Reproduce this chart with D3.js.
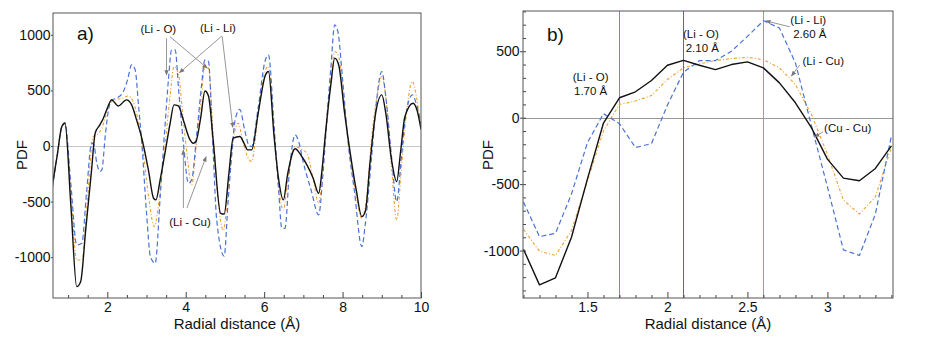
<!DOCTYPE html>
<html>
<head>
<meta charset="utf-8">
<script src="https://d3js.org/d3.v7.min.js"></script>
<style>
  body { margin: 0; background: #fff; }
  text { font-family: "Liberation Sans", Arial, sans-serif; fill: #111; }
</style>
</head>
<body>
<svg width="947" height="352"></svg>
<script>
// ---- panel a) : [r (Å), PDF] vertices
var aBlack = [[0.6,-350],[0.72,-90],[0.84,175],[0.92,205],[1.07,-530],[1.22,-1265],[1.32,-1220],[1.45,-750],[1.6,-210],[1.69,115],[1.81,190],[1.9,250],[2.0,340],[2.11,415],[2.28,360],[2.49,415],[2.62,370],[2.75,230],[2.88,70],[3.05,-220],[3.18,-470],[3.24,-485],[3.35,-300],[3.47,-65],[3.6,200],[3.7,370],[3.81,360],[3.95,220],[4.11,55],[4.19,25],[4.26,40],[4.38,250],[4.49,495],[4.58,450],[4.7,50],[4.89,-605],[4.98,-612],[5.1,-250],[5.21,70],[5.38,85],[5.48,30],[5.58,-35],[5.68,-35],[5.85,300],[6.02,625],[6.11,670],[6.25,100],[6.36,-275],[6.49,-485],[6.6,-250],[6.79,-25],[6.95,-90],[7.09,-170],[7.25,-290],[7.39,-425],[7.48,-200],[7.56,100],[7.7,550],[7.8,790],[7.9,730],[8.05,300],[8.2,-75],[8.35,-400],[8.49,-635],[8.58,-590],[8.7,-150],[8.83,265],[9.0,460],[9.1,300],[9.25,-130],[9.38,-320],[9.48,-50],[9.59,265],[9.8,385],[9.9,320],[10.0,150]];
var aOrange = [[0.6,-350],[0.72,-90],[0.84,170],[0.92,195],[1.07,-415],[1.22,-1025],[1.35,-1025],[1.5,-450],[1.64,85],[1.73,100],[1.86,160],[1.95,260],[2.07,385],[2.24,420],[2.4,430],[2.53,450],[2.66,400],[2.8,200],[2.92,-65],[3.05,-450],[3.2,-725],[3.33,-450],[3.47,0],[3.6,450],[3.7,715],[3.81,655],[3.92,300],[4.02,-35],[4.15,-350],[4.28,50],[4.4,450],[4.49,720],[4.58,700],[4.7,100],[4.83,-500],[4.96,-760],[5.1,-300],[5.26,145],[5.34,205],[5.45,50],[5.58,-100],[5.68,-140],[5.85,300],[6.02,670],[6.11,715],[6.3,-100],[6.42,-500],[6.49,-575],[6.6,-300],[6.79,-5],[6.95,-30],[7.09,-65],[7.25,-300],[7.39,-515],[7.5,-200],[7.6,200],[7.7,600],[7.8,850],[7.9,805],[8.05,350],[8.2,-100],[8.35,-450],[8.49,-650],[8.6,-500],[8.75,100],[8.88,450],[9.0,625],[9.1,450],[9.25,-200],[9.38,-665],[9.5,-200],[9.6,200],[9.78,580],[9.88,450],[10.0,145]];
var aBlue = [[0.6,-380],[0.72,-90],[0.84,175],[0.92,210],[1.07,-340],[1.22,-890],[1.35,-875],[1.47,-420],[1.6,25],[1.65,20],[1.73,-150],[1.81,-230],[1.86,-215],[1.95,100],[2.03,325],[2.11,415],[2.24,430],[2.41,490],[2.52,600],[2.62,730],[2.71,685],[2.8,350],[2.88,25],[3.0,-600],[3.1,-995],[3.22,-1055],[3.35,-450],[3.47,175],[3.56,600],[3.64,865],[3.73,865],[3.82,500],[3.94,25],[4.07,-335],[4.15,-305],[4.28,100],[4.4,535],[4.49,775],[4.58,760],[4.68,100],[4.79,-665],[4.98,-990],[5.08,-500],[5.18,-50],[5.26,235],[5.38,330],[5.5,150],[5.62,0],[5.68,-5],[5.85,350],[6.02,760],[6.11,820],[6.25,200],[6.37,-400],[6.45,-740],[6.53,-740],[6.65,-200],[6.79,100],[6.88,40],[7.0,-150],[7.2,-400],[7.39,-620],[7.5,-250],[7.6,250],[7.7,700],[7.8,1090],[7.88,1030],[8.0,600],[8.15,0],[8.3,-400],[8.49,-905],[8.58,-700],[8.74,-100],[8.85,350],[9.0,670],[9.1,450],[9.25,-100],[9.38,-500],[9.5,-100],[9.6,250],[9.78,460],[9.88,380],[10.0,200]];

// ---- panel b) : sampled every 0.1 Å
var rB = [1.1,1.2,1.3,1.4,1.5,1.6,1.7,1.8,1.9,2.0,2.1,2.2,2.3,2.4,2.5,2.6,2.7,2.8,2.9,3.0,3.1,3.2,3.3,3.4];
var bBlack  = [-990,-1258,-1205,-900,-460,-40,150,195,280,395,432,395,362,400,420,375,262,112,-75,-312,-455,-475,-382,-212];
var bOrange = [-840,-1005,-1037,-850,-475,-100,100,125,167,287,375,405,430,445,455,437,375,250,25,-275,-620,-725,-595,-225];
var bBlue   = [-635,-895,-870,-575,-187,30,-45,-225,-195,95,342,430,430,500,612,730,675,412,-60,-520,-995,-1037,-725,-137];

var aXTicks = [2,4,6,8,10], aYTicks = [-1000,-500,0,500,1000];
var bXTicks = [1.5,2,2.5,3], bYTicks = [-1000,-500,0,500];
var refLines = [1.7, 2.1, 2.6];
var refColors = ["#de6a5e", "#c9433d", "#d08a74"];

var styles = {
  black:  {stroke: "#111", width: 1.4, dash: null},
  orange: {stroke: "#f0a030", width: 1.1, dash: "3,2,1,2"},
  blue:   {stroke: "#4a72d6", width: 1.2, dash: "5,3"}
};

var svg = d3.select("svg");

function panel(opt) {
  var x = d3.scaleLinear().domain(opt.xDomain).range([opt.left, opt.right]);
  var y = d3.scaleLinear().domain(opt.yDomain).range([opt.bottom, opt.top]);
  var g = svg.append("g");

  g.append("line").attr("x1", opt.left).attr("x2", opt.right)
    .attr("y1", Math.round(y(0)) + 0.5).attr("y2", Math.round(y(0)) + 0.5)
    .attr("stroke", opt.zeroColor).attr("stroke-width", 1);

  if (opt.refs) {
    opt.refs.forEach(function(r, i) {
      var px = Math.round(x(r)) + 0.5;
      g.append("line").attr("x1", px).attr("x2", px)
        .attr("y1", opt.top).attr("y2", opt.bottom)
        .attr("stroke", refColors[i]).attr("stroke-width", 1);
    });
  }

  var clip = "clip" + opt.id;
  svg.append("clipPath").attr("id", clip).append("rect")
    .attr("x", opt.left).attr("y", opt.top)
    .attr("width", opt.right - opt.left).attr("height", opt.bottom - opt.top);

  var line = d3.line().x(function(d) { return x(d[0]); }).y(function(d) { return y(d[1]); })
    .curve(opt.curve);
  ["orange", "blue", "black"].forEach(function(k) {
    g.append("path").datum(opt.series[k])
      .attr("clip-path", "url(#" + clip + ")")
      .attr("fill", "none")
      .attr("stroke", styles[k].stroke)
      .attr("stroke-width", styles[k].width)
      .attr("stroke-dasharray", styles[k].dash)
      .attr("stroke-linejoin", "round")
      .attr("d", line);
  });

  // axes
  var plain = function(d) { return String(d); };
  var xAx = g.append("g").attr("transform", "translate(0," + opt.bottom + ")")
    .call(d3.axisBottom(x).tickValues(opt.xTicks).tickSize(-6).tickPadding(4).tickFormat(plain));
  g.append("g").attr("transform", "translate(0," + opt.bottom + ")")
    .call(d3.axisBottom(x).tickValues(opt.xMinor).tickSize(-3).tickFormat(""));
  g.append("g").attr("transform", "translate(" + opt.left + ",0)")
    .call(d3.axisLeft(y).tickValues(opt.yTicks).tickSize(opt.yTick).tickPadding(0.5).tickFormat(plain));
  if (opt.yMinor) {
    g.append("g").attr("transform", "translate(" + opt.left + ",0)")
      .call(d3.axisLeft(y).tickValues(opt.yMinor).tickSize(-3).tickFormat(""));
  }
  g.selectAll(".domain").remove();
  g.selectAll(".tick line").attr("stroke", "#444");
  g.selectAll(".tick text").attr("font-size", 14).attr("fill", "#111")
    .attr("font-family", "Liberation Sans, Arial, sans-serif");
  xAx.selectAll(".tick text").attr("dy", "0.71em");

  g.append("rect").attr("x", opt.left).attr("y", opt.top)
    .attr("width", opt.right - opt.left).attr("height", opt.bottom - opt.top)
    .attr("fill", "none").attr("stroke", "#555").attr("stroke-width", 1);

  g.append("text").attr("x", (opt.left + opt.right) / 2).attr("y", 329)
    .attr("text-anchor", "middle").attr("font-size", 15).text("Radial distance (Å)");
  g.append("text").attr("transform", "translate(" + opt.pdfX + ",155) rotate(-90)")
    .attr("text-anchor", "middle").attr("font-size", 15).text("PDF");
  g.append("text").attr("x", opt.tag[0]).attr("y", opt.tag[1])
    .attr("font-family", "Liberation Serif, Times New Roman, serif")
    .attr("font-size", 19).text(opt.tag[2]);

  // annotations
  opt.notes.forEach(function(n) {
    g.append("text").attr("x", x(n.x)).attr("y", y(n.y))
      .attr("text-anchor", n.anchor || "middle").attr("font-size", 11.5).text(n.t);
  });
  opt.arrows.forEach(function(a) {
    g.append("line").attr("x1", x(a[0])).attr("y1", y(a[1]))
      .attr("x2", x(a[2])).attr("y2", y(a[3]))
      .attr("stroke", "#8a8a8a").attr("stroke-width", 0.9)
      .attr("marker-end", "url(#arr)");
  });
  return {x: x, y: y};
}

svg.append("defs").append("marker").attr("id", "arr")
  .attr("viewBox", "0 0 10 10").attr("refX", 9).attr("refY", 5)
  .attr("markerWidth", 6).attr("markerHeight", 6).attr("orient", "auto")
  .append("path").attr("d", "M0,1 L10,5 L0,9 Z").attr("fill", "#777");

panel({
  id: "a", left: 53, right: 421, top: 13, bottom: 298,
  xDomain: [0.615, 10.0], yDomain: [-1367, 1196],
  curve: d3.curveMonotoneX, zeroColor: "#c8c8c8",
  series: {black: aBlack, orange: aOrange, blue: aBlue},
  xTicks: aXTicks, xMinor: d3.range(1, 10, 0.5).filter(function(v) { return v % 2 !== 0; }),
  yTicks: aYTicks, yTick: 2, pdfX: 27, tag: [77, 40, "a)"],
  notes: [
    {x: 3.3, y: 1016, t: "(Li - O)"},
    {x: 4.82, y: 1025, t: "(Li - Li)"},
    {x: 4.11, y: -719, t: "(Li - Cu)"}
  ],
  arrows: [
    [3.51, 968, 3.51, 638], [3.6, 983, 4.55, 699],
    [4.92, 989, 3.84, 659], [4.93, 985, 5.2, 168],
    [3.94, -558, 3.94, -36], [4.03, -558, 4.52, -96]
  ]
});

panel({
  id: "b", left: 523, right: 893, top: 11, bottom: 298,
  xDomain: [1.097, 3.41], yDomain: [-1357, 803],
  curve: d3.curveLinear, zeroColor: "#999",
  series: {
    black: rB.map(function(r, i) { return [r, bBlack[i]]; }),
    orange: rB.map(function(r, i) { return [r, bOrange[i]]; }),
    blue: rB.map(function(r, i) { return [r, bBlue[i]]; })
  },
  xTicks: bXTicks,
  xMinor: rB.filter(function(v) { return bXTicks.indexOf(v) < 0; }),
  yTicks: bYTicks, yTick: 3, yMinor: d3.range(-1300, 801, 100),
  pdfX: 493, tag: [547, 41, "b)"], refs: refLines,
  notes: [
    {x: 1.52, y: 276, t: "(Li - O)"},
    {x: 1.52, y: 171, t: "1.70 Å"},
    {x: 2.097, y: 599, t: "(Li - O)", anchor: "start"},
    {x: 2.114, y: 498, t: "2.10 Å", anchor: "start"},
    {x: 2.88, y: 704, t: "(Li - Li)"},
    {x: 2.89, y: 599, t: "2.60 Å"},
    {x: 2.974, y: 396, t: "(Li - Cu)"},
    {x: 3.127, y: -107, t: "(Cu - Cu)"}
  ],
  arrows: [
    [2.764, 684, 2.614, 729], [2.827, 396, 2.775, 314], [2.973, -105, 2.92, -147]
  ]
});
</script>
</body>
</html>
